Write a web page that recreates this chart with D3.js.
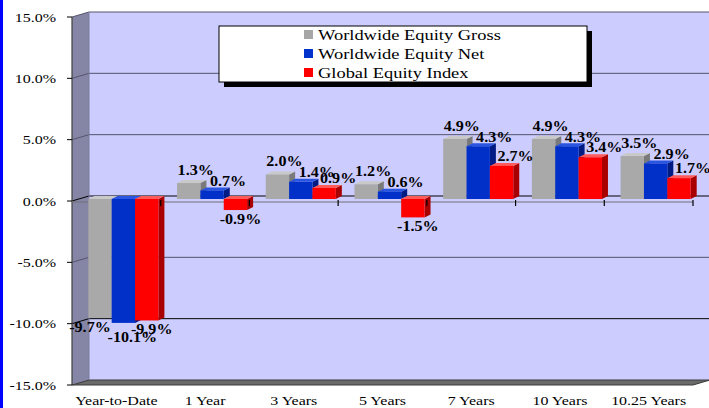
<!DOCTYPE html>
<html>
<head>
<meta charset="utf-8">
<script src="https://cdn.jsdelivr.net/npm/d3@7"></script>
<style>
  html, body { margin: 0; padding: 0; background: #ffffff; }
  svg { display: block; }
</style>
</head>
<body>
<svg id="chart" width="709" height="408"></svg>
<script>
// Annualised returns by period
const categories = ["Year-to-Date", "1 Year", "3 Years", "5 Years", "7 Years", "10 Years", "10.25 Years"];
const seriesNames = ["Worldwide Equity Gross", "Worldwide Equity Net", "Global Equity Index"];
const grossValues = [-9.7, 1.3, 2.0, 1.2, 4.9, 4.9, 3.5];
const netValues = [-10.1, 0.7, 1.4, 0.6, 4.3, 4.3, 2.9];
const indexValues = [-9.9, -0.9, 0.9, -1.5, 2.7, 3.4, 1.7];
const yTickValues = [15, 10, 5, 0, -5, -10, -15];

const seriesValues = [grossValues, netValues, indexValues];

// face colours for each series: front, side, top
const faceColors = [
  { front: "#a9a9a9", side: "#7a7a7a", top: "#c9c9c9", key: "#a6a6a6" },
  { front: "#0030c8", side: "#001c84", top: "#2a55e0", key: "#0033cc" },
  { front: "#ff0000", side: "#a80000", top: "#ff5a5a", key: "#ff0000" }
];

const svg = d3.select("#chart");
const pct = v => v.toFixed(1) + "%";   // plain hyphen for negatives

function label(parent, x, y, str, opts) {
  const o = Object.assign({ anchor: "middle", size: 13, weight: "normal", sx: 1.23 }, opts || {});
  const g = parent.append("g").attr("transform", `translate(${x},${y}) scale(${o.sx},1)`);
  g.append("text")
    .attr("x", 0).attr("y", 0)
    .attr("text-anchor", o.anchor)
    .attr("font-family", "'Liberation Serif', 'Times New Roman', serif")
    .attr("font-size", o.size)
    .attr("font-weight", o.weight)
    .attr("fill", "#000")
    .text(str);
}

// frame geometry
const frontLeft = 72, frontRight = 693;
const depthX = 17, depthY = -5;          // offset of back wall from the front plane
const barShiftX = 7, barShiftY = -2;     // plane on which the bars stand
const barDepthX = 6, barDepthY = -3;     // thickness of each bar

const y = d3.scaleLinear().domain([-15, 15]).range([385, 17]);
const x = d3.scaleBand().domain(categories).range([frontLeft, frontRight])
  .paddingInner(0.21).paddingOuter(0.105);
const xCat = d3.scaleBand().domain(categories).range([frontLeft, frontRight]).padding(0);
const xSeries = d3.scaleBand().domain(d3.range(seriesNames.length)).range([0, x.bandwidth()]);

// left border stripe
svg.append("rect").attr("x", 0).attr("y", 0).attr("width", 3).attr("height", 408).attr("fill", "#0000ff");

const yTop = y(15), yBot = y(-15);

// back wall
svg.append("rect")
  .attr("x", frontLeft + depthX).attr("y", yTop + depthY)
  .attr("width", 709 - (frontLeft + depthX)).attr("height", yBot - yTop)
  .attr("fill", "#ccccff");

// side wall
svg.append("polygon")
  .attr("points", [
    [frontLeft, yTop], [frontLeft + depthX, yTop + depthY],
    [frontLeft + depthX, yBot + depthY], [frontLeft, yBot]
  ].map(p => p.join(",")).join(" "))
  .attr("fill", "#8585a6");

// floor
svg.append("polygon")
  .attr("points", [
    [frontLeft, yBot], [frontLeft + depthX, yBot + depthY],
    [frontRight + depthX, yBot + depthY], [frontRight, yBot]
  ].map(p => p.join(",")).join(" "))
  .attr("fill", "#6a6a6a")
  .attr("stroke", "#3a3a3a").attr("stroke-width", 1);

// gridlines on back and side walls
yTickValues.filter(t => t !== -15).forEach(t => {
  const col = (t === 0 || t === -10) ? "#000000" : "#55556a";
  svg.append("line")
    .attr("x1", frontLeft + depthX).attr("x2", 709)
    .attr("y1", y(t) + depthY).attr("y2", y(t) + depthY)
    .attr("stroke", col).attr("stroke-width", 1);
  svg.append("line")
    .attr("x1", frontLeft).attr("x2", frontLeft + depthX)
    .attr("y1", y(t)).attr("y2", y(t) + depthY)
    .attr("stroke", col).attr("stroke-width", 1);
});

// back wall left edge
svg.append("line")
  .attr("x1", frontLeft + depthX).attr("x2", frontLeft + depthX)
  .attr("y1", yTop + depthY).attr("y2", yBot + depthY)
  .attr("stroke", "#7a7a9a").attr("stroke-width", 1);

// vertical axis
svg.append("line")
  .attr("x1", frontLeft).attr("x2", frontLeft)
  .attr("y1", yTop).attr("y2", yBot)
  .attr("stroke", "#404040").attr("stroke-width", 1.2);

yTickValues.forEach(t => {
  svg.append("line")
    .attr("x1", frontLeft - 5).attr("x2", frontLeft)
    .attr("y1", y(t)).attr("y2", y(t))
    .attr("stroke", "#000").attr("stroke-width", 1);
  label(svg, 56, y(t) + 4.5, pct(t), { anchor: "end" });
});

// front category axis at zero
svg.append("line")
  .attr("x1", frontLeft).attr("x2", frontRight)
  .attr("y1", y(0) + 1).attr("y2", y(0) + 1)
  .attr("stroke", "#707078").attr("stroke-width", 1.2);

// bars
const zeroY = y(0) + barShiftY;
categories.forEach((cat, ci) => {
  seriesValues.forEach((vals, si) => {
    const v = vals[ci];
    const x0 = x(cat) + xSeries(si) + barShiftX;
    const x1 = x0 + xSeries.bandwidth();
    const yv = y(v) + barShiftY;
    const yt = Math.min(yv, zeroY), yb = Math.max(yv, zeroY);
    const c = faceColors[si];
    // side face
    svg.append("polygon")
      .attr("points", [[x1, yt], [x1 + barDepthX, yt + barDepthY], [x1 + barDepthX, yb + barDepthY], [x1, yb]]
        .map(p => p.join(",")).join(" "))
      .attr("fill", c.side);
    // top face
    svg.append("polygon")
      .attr("points", [[x0, yt], [x0 + barDepthX, yt + barDepthY], [x1 + barDepthX, yt + barDepthY], [x1, yt]]
        .map(p => p.join(",")).join(" "))
      .attr("fill", c.top);
    // front face
    svg.append("rect")
      .attr("x", x0).attr("y", yt)
      .attr("width", x1 - x0).attr("height", Math.max(yb - yt, 0.5))
      .attr("fill", c.front);
  });
});

// category tick marks
categories.forEach((cat, ci) => {
  const tx = xCat(cat) + xCat.bandwidth();
  svg.append("line")
    .attr("x1", tx).attr("x2", tx)
    .attr("y1", y(0) - 1).attr("y2", y(0) + 5)
    .attr("stroke", "#000").attr("stroke-width", 1.2);
});

// value labels
const posDx = [7, 16, 14], posDy = [13, 9.5, 10];
const negDx = [-10, 9, 5], negDy = [9, 14, 9];
categories.forEach((cat, ci) => {
  seriesValues.forEach((vals, si) => {
    const v = vals[ci];
    const cx = x(cat) + xSeries(si) + barShiftX + xSeries.bandwidth() / 2;
    const yv = y(v) + barShiftY;
    const cy = v >= 0 ? yv - posDy[si] : yv + negDy[si];
    const dx = v >= 0 ? posDx[si] : negDx[si];
    label(svg, cx + dx, cy + 5, pct(v), { weight: "bold", size: 14, sx: 1.15 });
  });
});

// category labels
categories.forEach(cat => {
  label(svg, xCat(cat) + xCat.bandwidth() / 2, 405, cat);
});

// legend
const lg = svg.append("g");
lg.append("rect").attr("x", 224).attr("y", 31).attr("width", 368).attr("height", 56).attr("fill", "#000");
lg.append("rect").attr("x", 219).attr("y", 26).attr("width", 368).attr("height", 56)
  .attr("fill", "#ffffff").attr("stroke", "#000").attr("stroke-width", 1);
seriesNames.forEach((name, i) => {
  const cy = 34.5 + i * 19;
  lg.append("rect").attr("x", 304).attr("y", cy - 4.5).attr("width", 9).attr("height", 9)
    .attr("fill", faceColors[i].key);
  label(lg, 318, cy + 5, name, { anchor: "start", size: 15 });
});
</script>
</body>
</html>
